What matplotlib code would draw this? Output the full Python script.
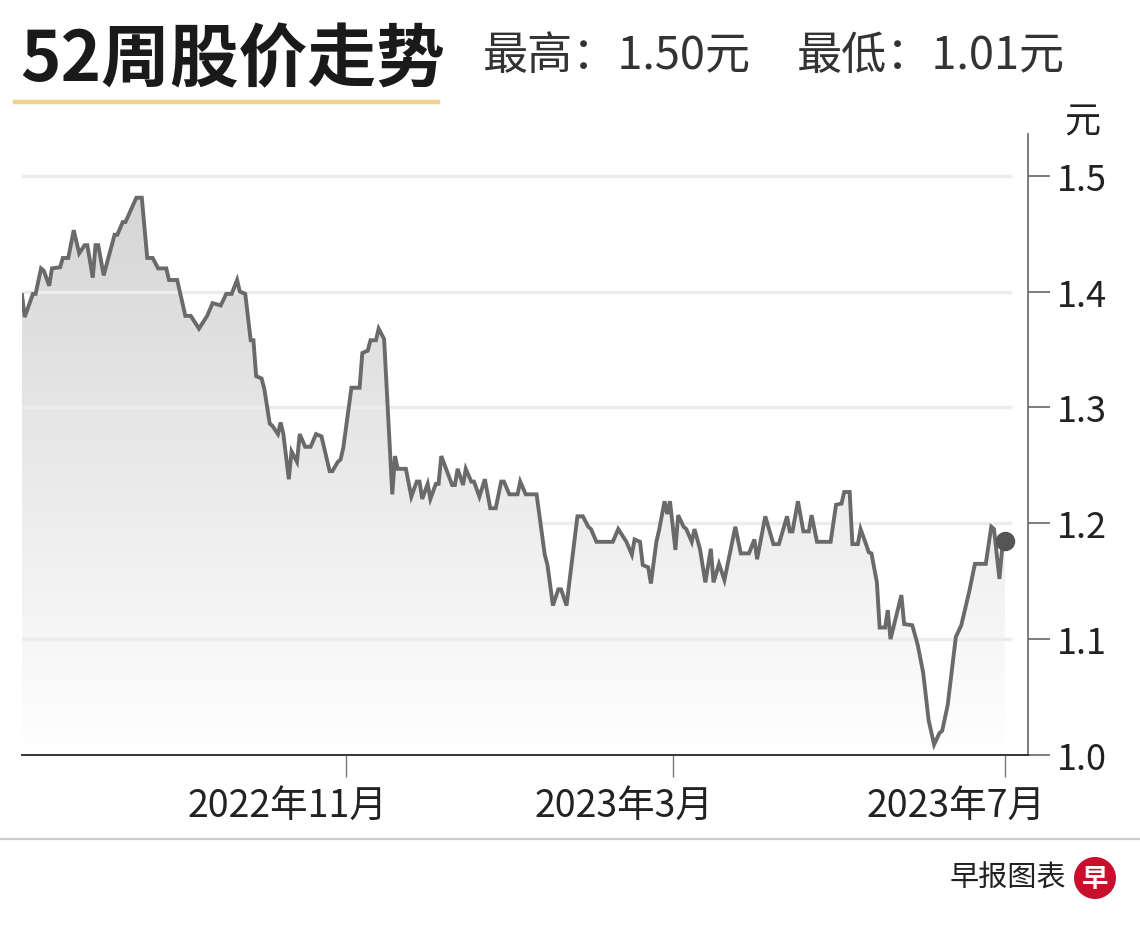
import numpy as np
import pandas as pd
import matplotlib
matplotlib.use('Agg')
import matplotlib.pyplot as plt
import matplotlib.dates as mdates
from matplotlib.colors import LinearSegmentedColormap
from matplotlib.patches import Ellipse
from matplotlib.lines import Line2D
from matplotlib.transforms import ScaledTranslation

plt.rcParams['font.family'] = ['Noto Sans CJK SC', 'DejaVu Sans']

# closing prices (vertices of the line)
dates = [
    '2022-07-05', '2022-07-06', '2022-07-09', '2022-07-10', '2022-07-12', '2022-07-13',
    '2022-07-15', '2022-07-16', '2022-07-19', '2022-07-20', '2022-07-22', '2022-07-24',
    '2022-07-26', '2022-07-28', '2022-07-29', '2022-07-31', '2022-08-01', '2022-08-02',
    '2022-08-04', '2022-08-08', '2022-08-09', '2022-08-11', '2022-08-12', '2022-08-16',
    '2022-08-18', '2022-08-20', '2022-08-22', '2022-08-24', '2022-08-27', '2022-08-28',
    '2022-08-31', '2022-09-03', '2022-09-05', '2022-09-08', '2022-09-11', '2022-09-13',
    '2022-09-16', '2022-09-18', '2022-09-20', '2022-09-22', '2022-09-23', '2022-09-25',
    '2022-09-27', '2022-09-28', '2022-09-29', '2022-10-01', '2022-10-02', '2022-10-04',
    '2022-10-05', '2022-10-07', '2022-10-08', '2022-10-09', '2022-10-11', '2022-10-12',
    '2022-10-14', '2022-10-15', '2022-10-17', '2022-10-19', '2022-10-21', '2022-10-23',
    '2022-10-26', '2022-10-27', '2022-10-29', '2022-10-30', '2022-10-31', '2022-11-03',
    '2022-11-06', '2022-11-07', '2022-11-09', '2022-11-10', '2022-11-12', '2022-11-13',
    '2022-11-15', '2022-11-18', '2022-11-19', '2022-11-20', '2022-11-23', '2022-11-25',
    '2022-11-27', '2022-11-28', '2022-11-29', '2022-12-01', '2022-12-02', '2022-12-04',
    '2022-12-05', '2022-12-06', '2022-12-10', '2022-12-11', '2022-12-12', '2022-12-14',
    '2022-12-15', '2022-12-17', '2022-12-18', '2022-12-20', '2022-12-22', '2022-12-24',
    '2022-12-26', '2022-12-28', '2022-12-29', '2022-12-31', '2023-01-03', '2023-01-04',
    '2023-01-06', '2023-01-10', '2023-01-13', '2023-01-14', '2023-01-16', '2023-01-18',
    '2023-01-19', '2023-01-21', '2023-01-25', '2023-01-27', '2023-01-29', '2023-01-30',
    '2023-02-01', '2023-02-07', '2023-02-09', '2023-02-12', '2023-02-14', '2023-02-15',
    '2023-02-17', '2023-02-18', '2023-02-20', '2023-02-21', '2023-02-23', '2023-02-24',
    '2023-02-26', '2023-02-27', '2023-02-28', '2023-03-02', '2023-03-03', '2023-03-05',
    '2023-03-06', '2023-03-08', '2023-03-09', '2023-03-11', '2023-03-13', '2023-03-15',
    '2023-03-16', '2023-03-18', '2023-03-20', '2023-03-24', '2023-03-26', '2023-03-29',
    '2023-03-31', '2023-04-01', '2023-04-04', '2023-04-07', '2023-04-09', '2023-04-12',
    '2023-04-13', '2023-04-14', '2023-04-16', '2023-04-18', '2023-04-20', '2023-04-21',
    '2023-04-23', '2023-04-28', '2023-04-30', '2023-05-02', '2023-05-03', '2023-05-05',
    '2023-05-06', '2023-05-08', '2023-05-09', '2023-05-11', '2023-05-12', '2023-05-13',
    '2023-05-15', '2023-05-16', '2023-05-18', '2023-05-19', '2023-05-20', '2023-05-24',
    '2023-05-25', '2023-05-28', '2023-05-30', '2023-06-01', '2023-06-03', '2023-06-05',
    '2023-06-07', '2023-06-08', '2023-06-10', '2023-06-13', '2023-06-15', '2023-06-18',
    '2023-06-20', '2023-06-24', '2023-06-26', '2023-06-27', '2023-06-29', '2023-06-30',
    '2023-07-01',
]
prices = [
    1.397, 1.378, 1.398, 1.398, 1.420, 1.418,
    1.405, 1.420, 1.421, 1.429, 1.429, 1.453,
    1.433, 1.440, 1.440, 1.412, 1.440, 1.440,
    1.414, 1.449, 1.449, 1.460, 1.460, 1.481,
    1.481, 1.429, 1.429, 1.420, 1.420, 1.410,
    1.410, 1.379, 1.379, 1.368, 1.379, 1.390,
    1.388, 1.398, 1.398, 1.410, 1.400, 1.398,
    1.358, 1.358, 1.327, 1.325, 1.316, 1.286,
    1.284, 1.277, 1.287, 1.277, 1.238, 1.262,
    1.253, 1.277, 1.266, 1.266, 1.277, 1.275,
    1.245, 1.245, 1.253, 1.255, 1.265, 1.317,
    1.317, 1.347, 1.349, 1.358, 1.358, 1.368,
    1.359, 1.225, 1.258, 1.247, 1.247, 1.223,
    1.236, 1.236, 1.221, 1.234, 1.221, 1.234,
    1.234, 1.258, 1.233, 1.233, 1.247, 1.233,
    1.247, 1.236, 1.236, 1.223, 1.238, 1.213,
    1.213, 1.236, 1.236, 1.225, 1.225, 1.236,
    1.225, 1.225, 1.173, 1.164, 1.129, 1.143,
    1.143, 1.129, 1.206, 1.206, 1.197, 1.195,
    1.184, 1.184, 1.195, 1.184, 1.173, 1.186,
    1.184, 1.164, 1.162, 1.148, 1.184, 1.194,
    1.219, 1.208, 1.219, 1.177, 1.207, 1.197,
    1.195, 1.184, 1.195, 1.178, 1.149, 1.178,
    1.149, 1.165, 1.151, 1.197, 1.174, 1.174,
    1.186, 1.169, 1.206, 1.182, 1.182, 1.206,
    1.193, 1.193, 1.219, 1.193, 1.193, 1.207,
    1.184, 1.184, 1.216, 1.217, 1.227, 1.227,
    1.182, 1.182, 1.195, 1.182, 1.175, 1.174,
    1.149, 1.110, 1.110, 1.125, 1.100, 1.138,
    1.113, 1.112, 1.095, 1.071, 1.030, 1.009,
    1.019, 1.021, 1.043, 1.102, 1.112, 1.142,
    1.165, 1.165, 1.197, 1.195, 1.152, 1.178,
    1.185,
]

y_ticks = [1.0, 1.1, 1.2, 1.3, 1.4, 1.5]
y_ticklabels = ['1.0', '1.1', '1.2', '1.3', '1.4', '1.5']
x_ticks = ['2022-11-01', '2023-03-01', '2023-07-01']
x_ticklabels = ['2022年11月', '2023年3月', '2023年7月']

title = '52周股价走势'
high_text = '最高：1.50元'
low_text = '最低：1.01元'
unit = '元'
source = '早报图表'

df = pd.DataFrame({'date': pd.to_datetime(dates), 'price': prices})

W, H = 1140, 928
fig = plt.figure(figsize=(W / 100, H / 100), dpi=100)
fig.patch.set_facecolor('white')

ax = fig.add_axes([22 / W, 1 - 756 / H, (1028 - 22) / W, (756 - 135) / H])
ax.set_facecolor('white')

xmin = pd.Timestamp('2022-07-05')
xmax = pd.Timestamp('2023-07-09 12:00')
ax.set_xlim(xmin, xmax)
ax.set_ylim(1.0, 1.536)

# grey gradient fill under the line
poly = ax.fill_between(df['date'], df['price'], 1.0, facecolor='none', edgecolor='none')
cmap = LinearSegmentedColormap.from_list('fade', ['#ffffff', '#d4d4d4'])
grad = np.linspace(0, 1, 256).reshape(-1, 1)
img = ax.imshow(grad, cmap=cmap, aspect='auto', origin='lower',
                extent=[mdates.date2num(xmin), mdates.date2num(xmax), 1.0, 1.5],
                zorder=1, interpolation='bicubic')
img.set_clip_path(poly.get_paths()[0], transform=ax.transData)

for v in y_ticks[1:]:
    ax.axhline(v, xmin=0, xmax=0.982, color='#ececec', lw=2.5, zorder=1.5)

ax.plot(df['date'], df['price'], color='#6a6a6a', lw=2.8, zorder=3,
        solid_joinstyle='miter')
ax.plot(df['date'].iloc[-1], df['price'].iloc[-1], 'o', ms=13, color='#555555',
        zorder=4, clip_on=False)

for s in ['left', 'top']:
    ax.spines[s].set_visible(False)
ax.spines['right'].set_color('#666666')
ax.spines['right'].set_linewidth(1.2)
ax.spines['bottom'].set_color('#333333')
ax.spines['bottom'].set_linewidth(1.4)

ax.yaxis.tick_right()
ax.set_yticks(y_ticks)
ax.set_yticklabels(y_ticklabels)
ax.tick_params(axis='y', length=16, width=1.2, color='#666666', pad=5,
               labelsize=26, labelcolor='#222222')

ax.set_xticks(pd.to_datetime(x_ticks))
ax.set_xticklabels(x_ticklabels, ha='right')
ax.tick_params(axis='x', length=16, width=1.0, color='#777777', pad=6,
               labelsize=27, labelcolor='#222222')
offset = ScaledTranslation(41 / 100, 0, fig.dpi_scale_trans)
for label in ax.get_xticklabels():
    label.set_transform(label.get_transform() + offset)

# header
fig.text(20 / W, 1 - 61 / H, title, fontsize=49.5, fontweight='heavy',
         color='#1a1a1a', ha='left', va='center')
fig.text(483 / W, 1 - 56 / H, high_text, fontsize=32.5, color='#333333',
         ha='left', va='center')
fig.text(797 / W, 1 - 56 / H, low_text, fontsize=32.5, color='#333333',
         ha='left', va='center')
fig.add_artist(Line2D([15 / W, 438 / W], [1 - 103 / H, 1 - 103 / H],
                      color='#efd28e', lw=3.2, transform=fig.transFigure))
fig.text(1082 / W, 1 - 122 / H, unit, fontsize=26, color='#222222',
         ha='center', va='center')

# footer
fig.add_artist(Line2D([0, 1], [1 - 840 / H, 1 - 840 / H], color='#cccccc',
                      lw=1.6, transform=fig.transFigure))
fig.text(1066 / W, 1 - 879 / H, source, fontsize=21, color='#222222',
         ha='right', va='center')
fig.add_artist(Ellipse((1095 / W, 1 - 879 / H), 42 / W, 42 / H,
                       facecolor='#c8102e', edgecolor='none',
                       transform=fig.transFigure))
fig.text(1095 / W, 1 - 880 / H, '早', fontsize=19, fontweight='bold',
         color='white', ha='center', va='center')

fig.savefig('out.png', dpi=100)
